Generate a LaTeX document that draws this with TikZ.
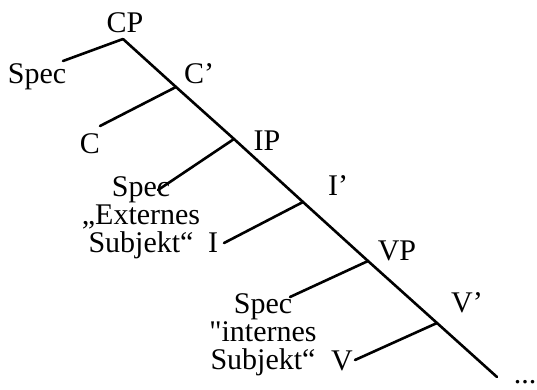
\documentclass[tikz,border=0pt]{standalone}
\usepackage{fontspec}
\setmainfont{Liberation Serif}
\newfontfamily\plainq{Liberation Serif}
\begin{document}
\begin{tikzpicture}[x=1pt,y=-1pt,
  lbl/.style={inner sep=0pt,anchor=base,font=\fontsize{30}{28}\selectfont},
  blk/.style={lbl,align=center},
  edge/.style={line width=2.6pt,line cap=round}]
\useasboundingbox (0,0) rectangle (537,389);
% junctions on the spine
\coordinate (jCP) at (123,39);
\coordinate (jC1) at (176,87);
\coordinate (jIP) at (234,139);
\coordinate (jI1) at (303,202);
\coordinate (jVP) at (368,261);
\coordinate (jV1) at (437,323);
\coordinate (jEnd) at (497,377);
% branch ends
\coordinate (bSpec1) at (63,61);
\coordinate (bC) at (100,126);
\coordinate (bSpec2) at (158,190);
\coordinate (bI) at (224,243);
\coordinate (bSpec3) at (290,297);
\coordinate (bV) at (355,360);
% labels
\node[lbl] (CP) at (125,32) {CP};
\node[lbl] (Spec1) at (37,83) {Spec};
\node[lbl] (C1) at (199,83) {C’};
\node[lbl] (C) at (90,153) {C};
\node[lbl] (IP) at (267,150) {IP};
\node[blk] (Spec2) at (141,252) {Spec\\„Externes\\Subjekt“};
\node[lbl] (I) at (213,252) {I};
\node[lbl] (I1) at (338,195) {I’};
\node[lbl] (VP) at (397,260) {VP};
\node[blk] (Spec3) at (263,369) {Spec\\{\plainq"}internes\\Subjekt“};
\node[lbl] (V) at (342,370) {V};
\node[lbl] (V1) at (467,312) {V’};
\node[lbl] (dots) at (525,383) {...};
% edges
\draw[edge] (jCP) -- (jC1) -- (jIP) -- (jI1) -- (jVP) -- (jV1) -- (jEnd);
\draw[edge] (jCP) -- (bSpec1);
\draw[edge] (jC1) -- (bC);
\draw[edge] (jIP) -- (bSpec2);
\draw[edge] (jI1) -- (bI);
\draw[edge] (jVP) -- (bSpec3);
\draw[edge] (jV1) -- (bV);
\end{tikzpicture}
\end{document}
